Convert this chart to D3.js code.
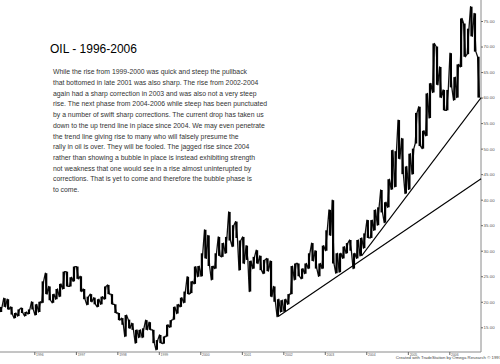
<!DOCTYPE html>
<html><head><meta charset="utf-8">
<script src="https://cdn.jsdelivr.net/npm/d3@7"></script>
<style>html,body{margin:0;padding:0;background:#fff;} svg{display:block;font-family:"Liberation Sans",Arial,sans-serif;}</style>
</head><body>
<svg id="c" width="500" height="364"></svg>
<script>
const title = "OIL - 1996-2006";
const noteLines = [
  "While the rise from 1999-2000 was quick and steep the pullback",
  "that bottomed in late 2001 was also sharp. The rise from 2002-2004",
  "again had a sharp correction in 2003 and was also not a very steep",
  "rise. The next phase from 2004-2006 while steep has been punctuated",
  "by a number of swift sharp corrections. The current drop has taken us",
  "down to the up trend line in place since 2004. We may even penetrate",
  "the trend line giving rise to many who will falsely presume the",
  "rally in oil is over. They will be fooled. The jagged rise since 2004",
  "rather than showing a bubble in place is instead exhibiting strength",
  "not weakness that one would see in a rise almost uninterupted by",
  "corrections. That is yet to come and therefore the bubble phase is",
  "to come."
];
const credit = "Created with TradeStation by Omega Research \u00A9 1997";
const yearTicks = [1996,1997,1998,1999,2000,2001,2002,2003,2004,2005,2006];
const priceTicks = [15,20,25,30,35,40,45,50,55,60,65,70,75];
const firstMonth = "1995-03";
const lastMonth = "2006-09";
// monthly lows (Mar 1995 .. Sep 2006)
const lows = [
  18.0,19.0,18.5,17.5,16.8,17.2,17.8,17.2,17.6,18.5,
  17.4,18.0,19.8,21.5,20.3,19.8,20.5,21.0,22.5,23.0,23.0,24.0,
  24.5,22.0,20.5,19.4,20.0,19.5,19.0,19.5,20.5,21.5,19.5,17.8,
  16.4,15.5,13.2,14.8,14.5,11.9,13.0,13.0,14.5,14.5,11.9,10.6,
  11.9,11.8,13.2,15.0,16.5,17.7,19.0,19.8,21.5,21.7,23.5,24.9,
  25.0,28.5,27.0,24.3,26.5,29.0,28.8,29.5,32.0,30.8,32.5,26.2,
  27.5,28.2,22.0,26.5,27.5,26.2,25.5,26.0,21.0,20.0,17.1,18.0,
  18.1,19.5,21.5,24.3,25.0,24.5,25.5,26.5,28.0,26.5,25.0,26.5,
  30.0,33.0,27.5,25.6,25.8,28.5,29.5,30.0,26.5,28.5,29.0,30.5,
  32.5,32.5,34.0,35.0,37.5,35.5,38.5,42.0,42.5,48.0,45.0,41.2,
  42.0,45.0,51.0,50.5,50.0,52.5,56.0,61.0,62.5,60.0,57.5,57.5,
  62.0,59.5,60.0,66.0,68.0,68.5,72.0,69.0,60.0
];
// monthly highs (Mar 1995 .. Sep 2006)
const highs = [
  19.0,20.7,20.5,19.0,17.8,18.5,18.8,18.0,18.5,20.0,
  19.5,20.0,24.0,25.6,23.0,21.5,22.5,23.5,25.9,25.9,24.8,26.9,
  26.9,25.0,22.5,21.0,21.5,20.8,20.5,21.0,23.0,23.3,21.5,19.5,
  17.8,16.8,17.4,16.5,15.8,14.5,14.5,14.8,16.4,16.0,14.5,12.5,
  13.5,13.2,15.5,16.4,19.0,19.5,20.8,22.0,24.9,24.0,26.9,27.0,
  29.5,34.1,33.0,27.0,29.5,32.7,31.5,32.7,37.6,35.0,35.7,32.0,
  32.7,31.0,28.0,28.8,30.1,29.0,28.2,28.5,28.0,23.0,20.5,20.3,
  20.5,21.5,27.0,27.5,27.5,26.5,27.5,29.5,31.5,30.0,27.5,31.0,
  34.0,38.0,39.9,29.5,29.5,30.8,31.5,32.1,29.5,32.1,32.5,33.4,
  36.0,36.0,38.0,38.5,41.9,39.5,44.0,49.7,49.5,55.6,52.0,46.5,
  49.0,50.0,57.0,58.2,53.5,60.8,62.8,70.6,70.0,66.0,61.5,61.5,
  68.7,64.0,66.5,75.5,74.5,73.5,77.8,76.5,68.0
];
const trendLower = [{date:"2001-11-17", value:17.1}, {date:"2006-10-08", value:44.1}];
const trendUpper = [{date:"2003-11-21", value:29.0}, {date:"2006-10-08", value:60.0}];

const parseM = d3.timeParse("%Y-%m");
const parseD = d3.timeParse("%Y-%m-%d");
const months = d3.timeMonth.range(parseM(firstMonth), d3.timeMonth.offset(parseM(lastMonth), 1));
const bars = months.map((m, i) => ({date: d3.timeDay.offset(m, 14), low: lows[i], high: highs[i]}));

const svg = d3.select("#c");
svg.append("rect").attr("width", 500).attr("height", 364).attr("fill", "#fff");

const x = d3.scaleTime().domain([new Date(1996,0,1), new Date(2006,0,1)]).range([34.3, 449.3]);
const y = d3.scaleLinear().domain([15, 75]).range([327.3, 21]);
const axisX = 481, axisY = 352;

// axis lines
svg.append("line").attr("x1", 0).attr("x2", axisX).attr("y1", axisY).attr("y2", axisY)
  .attr("stroke", "#8a8a8a").attr("stroke-width", 1);
svg.append("line").attr("x1", axisX).attr("x2", axisX).attr("y1", 0).attr("y2", axisY)
  .attr("stroke", "#8a8a8a").attr("stroke-width", 1);

// right axis
const gy = svg.append("g").attr("transform", `translate(${axisX},0)`)
  .call(d3.axisRight(y).tickValues(priceTicks).tickFormat(d3.format(".2f")).tickSize(2).tickPadding(0.6));
gy.select(".domain").remove();
gy.selectAll("line").attr("stroke", "#666");
gy.selectAll("text").attr("font-size", "4.4px").attr("fill", "#555").attr("font-family", "Liberation Sans, Arial, sans-serif");

// bottom axis
const gx = svg.append("g").attr("transform", `translate(0,${axisY})`)
  .call(d3.axisBottom(x).tickValues(yearTicks.map(v => new Date(v,0,1))).tickFormat(d3.timeFormat("%Y")).tickSize(3));
gx.select(".domain").remove();
gx.selectAll("line").attr("stroke", "#666");
gx.selectAll("text").attr("font-size", "3.4px").attr("fill", "#555").attr("text-anchor", "start")
  .attr("x", 1.3).attr("y", 1.3).attr("font-family", "Liberation Sans, Arial, sans-serif");

// price bars
const zig = [];
bars.forEach((b, i) => {
  const next = bars[i + 1];
  const rising = next ? (next.low + next.high) > (b.low + b.high) : false;
  const cx = x(b.date);
  if (rising) { zig.push([cx - 0.9, y(b.low)], [cx + 0.9, y(b.high)]); }
  else { zig.push([cx - 0.9, y(b.high)], [cx + 0.9, y(b.low)]); }
});
svg.append("path").attr("d", d3.line()(zig)).attr("fill", "none")
  .attr("stroke", "#111").attr("stroke-width", 1.3).attr("stroke-linejoin", "round");
svg.append("g").selectAll("line").data(bars).join("line")
  .attr("x1", d => x(d.date)).attr("x2", d => x(d.date))
  .attr("y1", d => y(d.low)).attr("y2", d => y(d.high))
  .attr("stroke", "#000").attr("stroke-width", 2.2);

// trend lines
[trendLower, trendUpper].forEach(t => {
  svg.append("line")
    .attr("x1", x(parseD(t[0].date))).attr("y1", y(t[0].value))
    .attr("x2", x(parseD(t[1].date))).attr("y2", y(t[1].value))
    .attr("stroke", "#000").attr("stroke-width", 1.1);
});

// title and note
svg.append("text").attr("x", 50).attr("y", 52.8).attr("font-size", "12px").attr("fill", "#000").text(title);
svg.append("g").selectAll("text").data(noteLines).join("text")
  .attr("x", 53).attr("y", (d, i) => 74.3 + i * 10.7)
  .attr("font-size", "6.85px").attr("fill", "#333").text(d => d);

// credit
svg.append("text").attr("x", 395.7).attr("y", 359.3).attr("font-size", "4.3px").attr("fill", "#444").text(credit);
</script>
</body></html>
